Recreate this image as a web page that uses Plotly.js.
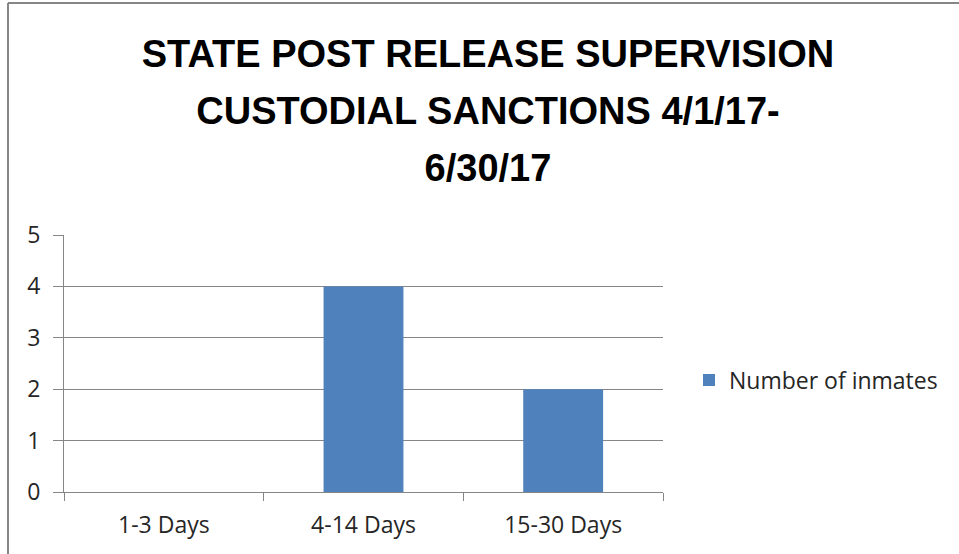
<!DOCTYPE html>
<html>
<head>
<meta charset="utf-8">
<script src="https://cdn.plot.ly/plotly-3.0.1.min.js"></script>
<style>
html,body{margin:0;padding:0;background:#fff;}
#chart{width:959px;height:554px;}
</style>
</head>
<body>
<div id="chart"></div>
<script>
const categories = ["1-3 Days", "4-14 Days", "15-30 Days"];
const inmates = [0, 4, 2];
const seriesName = "Number of inmates";
const titleLines = ["STATE POST RELEASE SUPERVISION", "CUSTODIAL SANCTIONS 4/1/17-", "6/30/17"];

const W = 959, H = 554;
const L = 64, R = 296, T = 235, B = 62;
const pw = W - L - R, ph = H - T - B;
const px = v => (v - L) / pw;
const py = v => (H - B - v) / ph;
const gray = '#868686';
const tickFont = {family: 'Open Sans, sans-serif', size: 23, color: '#262626'};

const trace = {
  type: 'bar',
  x: categories,
  y: inmates,
  name: seriesName,
  marker: {color: '#4F81BD'},
  showlegend: true,
  hoverinfo: 'none'
};

const layout = {
  width: W, height: H,
  margin: {l: L, r: R, t: T, b: B, pad: 0},
  paper_bgcolor: '#fff', plot_bgcolor: '#fff',
  bargap: 0.6,
  title: {
    text: titleLines.map(s => '<span style="font-size:38px">' + s + '</span>').join('<br>'),
    font: {family: 'Liberation Sans, Arial, sans-serif', size: 44, weight: 'bold', color: '#000'},
    x: 488 / W, xanchor: 'center',
    y: 1 - 67 / H, yanchor: 'top', yref: 'container'
  },
  xaxis: {
    type: 'category',
    showline: true, linecolor: gray, linewidth: 1,
    ticks: 'outside', tickson: 'boundaries', ticklen: 8, tickcolor: gray,
    ticklabelstandoff: 12,
    showgrid: false, zeroline: false,
    tickfont: tickFont
  },
  yaxis: {
    range: [0, 5], dtick: 1,
    showline: true, linecolor: gray, linewidth: 1,
    ticks: 'outside', ticklen: 10, tickcolor: gray,
    ticklabelstandoff: 8,
    showgrid: true, gridcolor: gray, gridwidth: 1,
    zeroline: false,
    tickfont: tickFont
  },
  legend: {
    x: px(689), xanchor: 'left',
    y: py(380), yanchor: 'middle',
    font: tickFont,
    bgcolor: 'rgba(0,0,0,0)'
  },
  shapes: [
    {type: 'line', xref: 'paper', yref: 'paper', x0: px(8), x1: px(W + 5), y0: py(3), y1: py(3), line: {color: gray, width: 2}},
    {type: 'line', xref: 'paper', yref: 'paper', x0: px(8), x1: px(8), y0: py(3), y1: py(H + 5), line: {color: gray, width: 2}}
  ]
};

Plotly.newPlot('chart', [trace], layout, {displayModeBar: false, staticPlot: true});
</script>
</body>
</html>
